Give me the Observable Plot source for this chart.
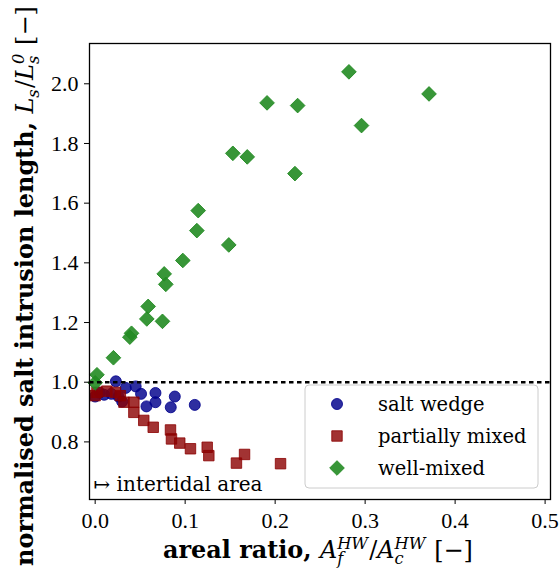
<!DOCTYPE html>
<html><head><meta charset="utf-8">
<script src="https://cdn.jsdelivr.net/npm/d3@7"></script>
<script src="https://cdn.jsdelivr.net/npm/@observablehq/plot@0.6"></script>
<style>
body{margin:0;background:#fff}
#chart{width:560px;height:572px}
</style>
</head><body><div id="chart"></div>
<script>
// ---- data ----
const saltWedgeX = [0.000, 0.005, 0.010, 0.018, 0.023, 0.026, 0.030, 0.034, 0.045, 0.051, 0.057, 0.067, 0.067, 0.084, 0.0885, 0.1107];
const saltWedgeY = [0.952, 0.965, 0.958, 0.961, 1.003, 0.952, 0.935, 0.981, 0.986, 0.961, 0.919, 0.964, 0.933, 0.916, 0.952, 0.924];

const partialX = [0.000, 0.002, 0.013, 0.0226, 0.028, 0.032, 0.043, 0.043, 0.054, 0.0645, 0.0837, 0.0848, 0.094, 0.1059, 0.1245, 0.1263, 0.157, 0.166, 0.206];
const partialY = [0.955, 0.966, 0.970, 0.966, 0.955, 0.933, 0.933, 0.899, 0.872, 0.849, 0.840, 0.810, 0.796, 0.777, 0.782, 0.754, 0.729, 0.758, 0.727];

const wellMixedX = [0.000, 0.002, 0.0203, 0.0385, 0.0404, 0.0574, 0.0589, 0.0748, 0.0767, 0.0785, 0.0974, 0.113, 0.1145, 0.1485, 0.153, 0.169, 0.191, 0.222, 0.225, 0.282, 0.296, 0.371];
const wellMixedY = [0.998, 1.025, 1.082, 1.151, 1.164, 1.212, 1.254, 1.204, 1.363, 1.328, 1.408, 1.508, 1.575, 1.460, 1.767, 1.755, 1.936, 1.699, 1.927, 2.040, 1.860, 1.966];

const seriesNames = ["salt wedge", "partially mixed", "well-mixed"];
const seriesColors = ["#00008b", "#8b0000", "#228b22"];
const seriesSymbols = ["circle", "square", "diamond2"];
const seriesOpacity = [0.82, 0.8, 0.9];
const seriesR = [5.5, 5.9, 6.6];

const xTicks = [0, 0.1, 0.2, 0.3, 0.4, 0.5];
const yTicks = [0.8, 1.0, 1.2, 1.4, 1.6, 1.8, 2.0];
const referenceLevel = [1.0];
const annotation = ["\u21A6 intertidal area"];

const toRows = (xs, ys) => xs.map((x, i) => ({x, y: ys[i]}));
const groups = [toRows(saltWedgeX, saltWedgeY), toRows(partialX, partialY), toRows(wellMixedX, wellMixedY)];

const TICKFONT = "'Liberation Serif', serif";
const TEXTFONT = "'DejaVu Serif', serif";

const dotMarks = groups.map((rows, i) => Plot.dot(rows, {
  x: "x", y: "y", symbol: () => seriesSymbols[i], r: seriesR[i],
  fill: seriesColors[i], fillOpacity: seriesOpacity[i],
  stroke: seriesColors[i], strokeOpacity: seriesOpacity[i], strokeWidth: 1
}));

const chart = Plot.plot({
  width: 560, height: 572,
  marginLeft: 89, marginRight: 10, marginTop: 43, marginBottom: 73,
  style: {fontFamily: TICKFONT, fontSize: "22px", color: "black", background: "white", overflow: "visible"},
  x: {domain: [-0.0063, 0.506], axis: null},
  y: {domain: [0.607, 2.135], axis: null},
  symbol: {type: "identity"},
  marks: [
    ...dotMarks,
    Plot.ruleY(referenceLevel, {stroke: "black", strokeWidth: 2.5, strokeDasharray: "4.5,3.5"}),
    Plot.text(annotation, {text: d => d, frameAnchor: "bottom-left", dx: 4, dy: -9, textAnchor: "start", lineAnchor: "bottom", fontSize: 20, fontFamily: TEXTFONT, fill: "black"}),
    Plot.frame({stroke: "black", strokeWidth: 1.3}),
    Plot.axisX(xTicks, {tickFormat: d3.format(".1f"), tickSize: 5, tickPadding: 8, label: null, fontSize: 22}),
    Plot.axisY(yTicks, {tickFormat: d3.format(".1f"), tickSize: 5, tickPadding: 6, label: null, fontSize: 22})
  ]
});
document.getElementById("chart").appendChild(chart);

const svg = d3.select(chart);

// ---- rich text labels (bold text + math with stacked sub/superscripts) ----
function richLabel(parent, x, y, rotate, parts, targetLen) {
  const t = parent.append("text")
    .attr("x", x).attr("y", y)
    .attr("text-anchor", "middle")
    .attr("font-family", TEXTFONT)
    .attr("fill", "black");
  if (rotate) t.attr("transform", `rotate(-90,${x},${y})`);
  function build(F) {
    t.selectAll("*").remove();
    t.attr("font-size", F);
    let cur = 0;
    let pendingDx = 0;
    parts.forEach(p => {
      if (p.stack) {
        let supW = 0;
        if (p.sup) {
          const sup = t.append("tspan").attr("font-size", 0.68 * F).attr("font-style", "italic")
            .attr("dy", -0.38 * F - cur).text(p.sup);
          cur = -0.38 * F;
          supW = sup.node().getComputedTextLength();
        }
        const sub = t.append("tspan").attr("font-size", 0.68 * F).attr("font-style", "italic")
          .attr("dy", 0.25 * F - cur).text(p.sub);
        if (supW) sub.attr("dx", -supW);
        cur = 0.25 * F;
        const subW = sub.node().getComputedTextLength();
        pendingDx = Math.max(0, supW - subW) + 0.05 * F;
      } else {
        const ts = t.append("tspan").text(p.t).attr("dy", -cur);
        if (pendingDx) ts.attr("dx", pendingDx);
        pendingDx = 0;
        cur = 0;
        if (p.bold) ts.attr("font-weight", "bold");
        if (p.italic) ts.attr("font-style", "italic");
      }
    });
  }
  build(20);
  const w = t.node().getBBox().width;
  if (targetLen && w > 0) build(20 * targetLen / w);
  return t;
}

// x label
richLabel(svg, 318, 558, false, [
  {t: "areal ratio, ", bold: true},
  {t: "A", italic: true},
  {stack: true, sup: "HW", sub: "f"},
  {t: "/"},
  {t: "A", italic: true},
  {stack: true, sup: "HW", sub: "c"},
  {t: " [\u2212]"}
], 310);

// y label
richLabel(svg, 33, 286, true, [
  {t: "normalised salt intrusion length, ", bold: true},
  {t: "L", italic: true},
  {stack: true, sup: "", sub: "s"},
  {t: "/"},
  {t: "L", italic: true},
  {stack: true, sup: "0", sub: "s"},
  {t: " [\u2212]"}
], 560);

// ---- legend ----
const lg = svg.append("g");
lg.append("rect").attr("x", 305).attr("y", 385).attr("width", 233).attr("height", 103)
  .attr("rx", 4).attr("fill", "white").attr("fill-opacity", 0.85)
  .attr("stroke", "#cccccc").attr("stroke-width", 1);
const d3Sym = {circle: d3.symbolCircle, square: d3.symbolSquare, diamond2: d3.symbolDiamond2};
seriesNames.forEach((name, i) => {
  const cy = 404 + i * 32;
  lg.append("path")
    .attr("d", d3.symbol(d3Sym[seriesSymbols[i]], Math.PI * seriesR[i] * seriesR[i])())
    .attr("transform", `translate(337,${cy})`)
    .attr("fill", seriesColors[i]).attr("fill-opacity", seriesOpacity[i])
    .attr("stroke", seriesColors[i]).attr("stroke-opacity", seriesOpacity[i]);
  lg.append("text").attr("x", 378).attr("y", cy).attr("dy", "0.35em")
    .attr("text-anchor", "start")
    .attr("font-family", TEXTFONT).attr("font-size", 19.5).attr("fill", "black")
    .text(name);
});
</script>
</body></html>
